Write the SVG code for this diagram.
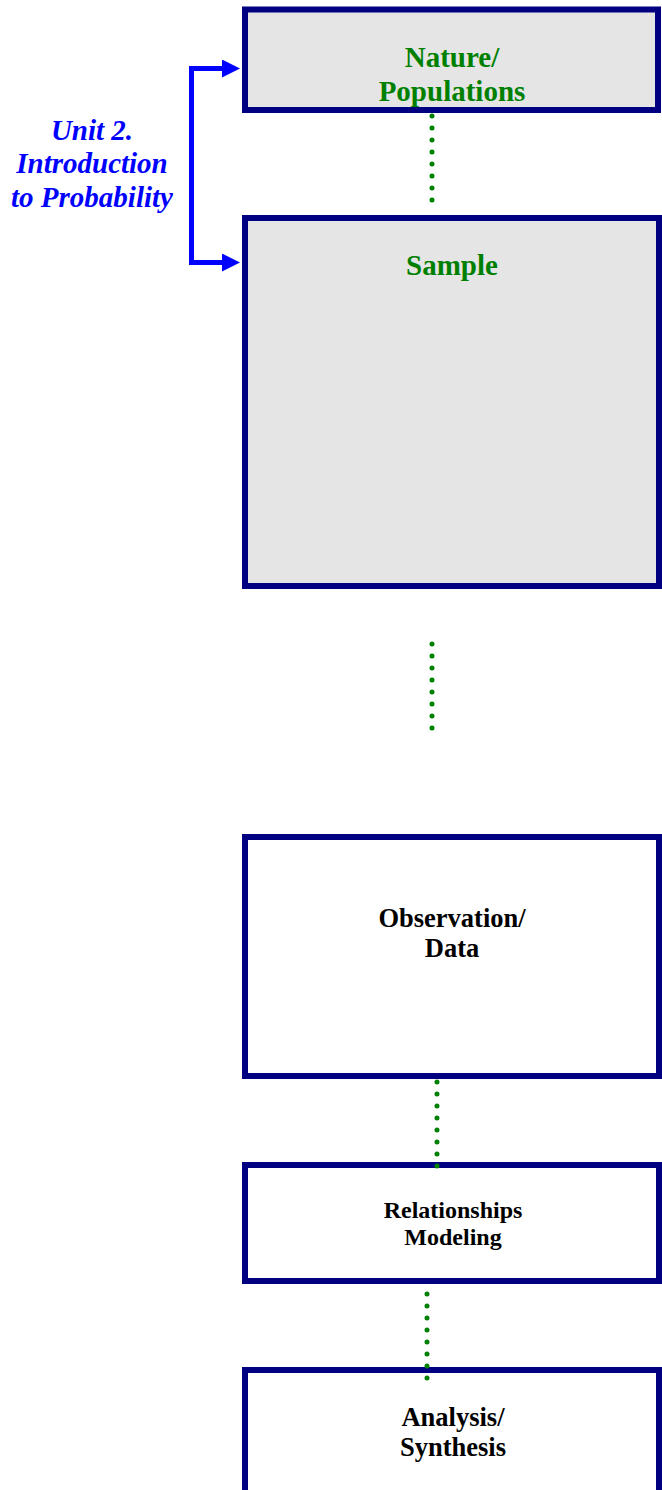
<svg xmlns="http://www.w3.org/2000/svg" width="662" height="1490" viewBox="0 0 662 1490">
  <defs>
    <style>
      .box { stroke: #000080; stroke-width: 6; }
      .shaded { fill: #E5E5E5; }
      .plain { fill: #FFFFFF; }
      .label { font-family: "Liberation Serif", "Times New Roman", serif; font-weight: bold; text-anchor: middle; }
      .green { fill: #008000; font-size: 29px; }
      .black { fill: #000000; font-size: 26.5px; }
      .small { font-size: 24px; }
      .unit { fill: #0000FF; font-style: italic; font-size: 29px; }
      .dots { stroke: #008000; stroke-width: 5; stroke-linecap: round; stroke-dasharray: 0 12; fill: none; }
      .bracket { stroke: #0000FF; stroke-width: 5; fill: none; stroke-linejoin: miter; }
    </style>
    <marker id="arrowhead" markerUnits="userSpaceOnUse" viewBox="0 0 18 18" refX="0" refY="9" markerWidth="18" markerHeight="18" orient="auto-start-reverse">
      <path d="M0,0 L18,9 L0,18 Z" fill="#0000FF"/>
    </marker>
  </defs>

  <rect width="662" height="1490" fill="#FFFFFF"/>

  <!-- boxes -->
  <g id="nature">
    <rect class="box shaded" x="245" y="9.5" width="413" height="100.5"/>
    <text class="label green" x="452" y="67">Nature/</text>
    <text class="label green" x="452" y="100.5">Populations</text>
  </g>

  <g id="sample">
    <rect class="box shaded" x="245" y="218" width="414" height="368"/>
    <text class="label green" x="452" y="275">Sample</text>
  </g>

  <g id="observation">
    <rect class="box plain" x="245" y="837" width="414" height="239"/>
    <text class="label black" x="452" y="927">Observation/</text>
    <text class="label black" x="452" y="957">Data</text>
  </g>

  <g id="relationships">
    <rect class="box plain" x="245" y="1165" width="414" height="116"/>
    <text class="label black small" x="453" y="1218">Relationships</text>
    <text class="label black small" x="453" y="1245">Modeling</text>
  </g>

  <g id="analysis">
    <rect class="box plain" x="245" y="1370" width="414" height="200"/>
    <text class="label black" x="453" y="1426">Analysis/</text>
    <text class="label black" x="453" y="1456">Synthesis</text>
  </g>

  <g id="unit-label">
    <text class="label unit" x="92" y="140">Unit 2.</text>
    <text class="label unit" x="92" y="173.3">Introduction</text>
    <text class="label unit" x="92" y="206.7">to Probability</text>
  </g>

  <!-- connectors -->
  <g id="connectors">
    <path class="dots" d="M432,116 V201"/>
    <path class="dots" d="M432,644 V729"/>
    <path class="dots" d="M437,1082 V1167"/>
    <path class="dots" d="M427,1294 V1379"/>
    <path class="bracket" d="M222,68.5 H191.5 V262.5 H222" marker-start="url(#arrowhead)" marker-end="url(#arrowhead)"/>
  </g>
</svg>
